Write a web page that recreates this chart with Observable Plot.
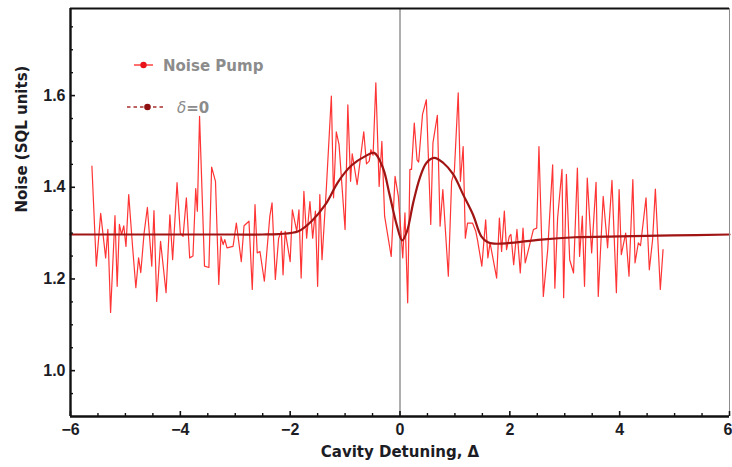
<!DOCTYPE html>
<html>
<head>
<meta charset="utf-8">
<script src="https://cdn.jsdelivr.net/npm/d3@7"></script>
<script src="https://cdn.jsdelivr.net/npm/@observablehq/plot@0.6"></script>
<style>
  html, body { margin: 0; padding: 0; background: #fff; }
  #chart svg { display: block; }
</style>
</head>
<body>
<div id="chart"></div>
<script>
// ---- data ----
const noiseX = [-5.61,-5.53,-5.45,-5.36,-5.32,-5.27,-5.19,-5.15,-5.11,-5.07,-5.03,-4.99,-4.94,-4.87,-4.81,-4.76,-4.72,-4.66,-4.60,-4.52,-4.48,-4.43,-4.36,-4.26,-4.19,-4.14,-4.06,
  -4.00,-3.95,-3.89,-3.83,-3.77,-3.72,-3.69,-3.65,-3.56,-3.48,-3.43,-3.36,-3.30,-3.26,-3.22,-3.19,-3.15,-3.04,-2.98,-2.89,-2.84,-2.75,-2.69,-2.64,-2.60,-2.55,-2.47,-2.37,-2.33,-2.27,-2.21,
  -2.16,-2.13,-2.09,-2.00,-1.96,-1.88,-1.84,-1.80,-1.75,-1.70,-1.64,-1.59,-1.54,-1.50,-1.46,-1.42,-1.34,-1.25,-1.21,-1.16,-1.11,-1.00,-0.95,-0.90,-0.87,-0.78,-0.66,-0.61,-0.56,-0.53,-0.49,-0.44,
  -0.38,-0.33,-0.28,-0.16,-0.09,-0.03,0.05,0.09,0.14,0.18,0.21,0.26,0.31,0.34,0.41,0.48,0.56,0.60,0.68,0.73,0.78,0.88,0.94,0.99,1.06,1.10,1.15,1.19,1.23,1.32,1.38,
  1.41,1.49,1.56,1.60,1.64,1.76,1.81,1.85,1.90,1.94,1.99,2.02,2.07,2.13,2.19,2.24,2.28,2.43,2.49,2.53,2.61,2.69,2.78,2.82,2.87,2.95,2.98,3.03,3.09,3.16,
  3.23,3.27,3.32,3.36,3.41,3.49,3.57,3.61,3.70,3.78,3.86,3.94,3.99,4.03,4.11,4.17,4.24,4.28,4.34,4.38,4.48,4.54,4.60,4.65,4.74,4.79];
const noiseY = [1.446,1.228,1.343,1.246,1.308,1.127,1.338,1.184,1.319,1.297,1.316,1.271,1.384,1.271,1.181,1.246,1.214,1.300,1.356,1.228,1.349,1.151,1.282,1.170,1.340,1.242,1.410,
  1.300,1.293,1.377,1.246,1.250,1.397,1.348,1.555,1.228,1.225,1.444,1.413,1.188,1.293,1.275,1.286,1.268,1.271,1.322,1.238,1.316,1.326,1.177,1.362,1.257,1.260,1.195,1.337,1.366,1.199,1.289,
  1.304,1.209,1.304,1.238,1.351,1.304,1.351,1.202,1.391,1.289,1.369,1.289,1.348,1.184,1.384,1.242,1.400,1.599,1.377,1.521,1.493,1.308,1.580,1.413,1.473,1.406,1.521,1.451,1.457,1.482,1.470,1.628,
  1.402,1.500,1.337,1.249,1.424,1.380,1.246,1.344,1.148,1.439,1.439,1.540,1.460,1.455,1.559,1.591,1.319,1.497,1.557,1.315,1.395,1.206,1.413,1.435,1.606,1.413,1.489,1.289,1.322,1.322,1.304,
  1.286,1.228,1.329,1.246,1.279,1.202,1.333,1.260,1.348,1.264,1.293,1.297,1.231,1.308,1.213,1.311,1.235,1.308,1.311,1.489,1.162,1.264,1.449,1.180,1.333,1.439,1.159,1.428,1.242,1.213,
  1.442,1.249,1.337,1.184,1.420,1.257,1.411,1.162,1.380,1.268,1.415,1.170,1.395,1.253,1.300,1.206,1.417,1.235,1.279,1.273,1.377,1.220,1.286,1.396,1.177,1.264];

const fitX = [-6,-4,-3,-2.5,-2.21,-1.85,-1.61,-1.36,-1.12,-0.88,-0.63,-0.47,-0.31,-0.19,-0.06,0.04,0.13,0.24,0.36,0.48,0.62,0.79,0.97,1.15,1.33,1.48,1.60,1.72,1.96,2.57,3.18,4.0,4.96,6];
const fitY = [1.297,1.297,1.297,1.297,1.298,1.304,1.326,1.362,1.413,1.448,1.468,1.475,1.442,1.384,1.318,1.284,1.305,1.366,1.420,1.453,1.464,1.453,1.428,1.384,1.340,1.293,1.280,1.277,1.278,1.286,1.291,1.293,1.295,1.297];

const xMajor = [-6,-4,-2,0,2,4,6];
const xMajorLabels = ["\u22126","\u22124","\u22122","0","2","4","6"];
const xMinor = [-5.5,-5,-4.5,-3.5,-3,-2.5,-1.5,-1,-0.5,0.5,1,1.5,2.5,3,3.5,4.5,5,5.5];
const yMajor = [1.0,1.2,1.4,1.6];
const yMajorLabels = ["1.0","1.2","1.4","1.6"];
const yMinor = [0.95,1.05,1.1,1.15,1.25,1.3,1.35,1.45,1.5,1.55,1.65,1.7,1.75];

const xTitle = "Cavity Detuning, \u0394";
const yTitle = "Noise (SQL units)";
const legendNames = ["Noise Pump", "\u03b4=0"];

// ---- tables ----
const noise = noiseX.map((x, i) => ({x, y: noiseY[i]}));
const fit = fitX.map((x, i) => ({x, y: fitY[i]}));

const FONT = "'Liberation Sans', Arial, sans-serif";
const WIDE = "'DejaVu Sans', Verdana, sans-serif";
const ink = "#1c1c24";
const yLo = 0.9, yHi = 1.79, xLo = -6, xHi = 6;
const lastX = xMajor[xMajor.length - 1];

const chart = Plot.plot({
  width: 732,
  height: 467,
  marginLeft: 70,
  marginRight: 3,
  marginTop: 8,
  marginBottom: 51,
  style: {fontFamily: FONT, background: "#fff"},
  x: {domain: [xLo, xHi], axis: null},
  y: {domain: [yLo, yHi], axis: null},
  marks: [
    // zero line
    Plot.ruleX([0], {stroke: "#9a9a9a", strokeWidth: 1.6}),
    // data
    Plot.line(noise, {x: "x", y: "y", stroke: "#ff2323", strokeWidth: 1.2, strokeOpacity: 0.92}),
    Plot.line(fit, {x: "x", y: "y", stroke: "#a01414", strokeWidth: 2.2, curve: "catmull-rom"}),
    // frame
    Plot.ruleX([xHi], {stroke: "#8c8c8c", strokeWidth: 1}),
    Plot.ruleY([yHi], {stroke: "#111", strokeWidth: 2}),
    Plot.ruleX([xLo], {stroke: "#111", strokeWidth: 2.4}),
    Plot.ruleY([yLo], {stroke: "#111", strokeWidth: 2.4}),
    // x ticks (inward)
    Plot.ruleX(xMajor, {x: d => d, y1: yLo, y2: yLo, insetTop: -5, stroke: "#111", strokeWidth: 1.6}),
    Plot.ruleX(xMinor, {x: d => d, y1: yLo, y2: yLo, insetTop: -3, stroke: "#111", strokeWidth: 1.4}),
    // y ticks (inward)
    Plot.ruleY(yMajor, {y: d => d, x1: xLo, x2: xLo, insetRight: -5, stroke: "#111", strokeWidth: 1.6}),
    Plot.ruleY(yMinor, {y: d => d, x1: xLo, x2: xLo, insetRight: -3, stroke: "#111", strokeWidth: 1.4}),
    // tick labels
    Plot.text(xMajor.slice(0, -1), {x: d => d, frameAnchor: "bottom", dy: 13, text: (d, i) => xMajorLabels[i],
      fontSize: 16, fontWeight: "bold", fill: ink, lineAnchor: "middle"}),
    Plot.text([lastX], {x: d => d, frameAnchor: "bottom", dy: 13, dx: 3, text: () => xMajorLabels[xMajorLabels.length - 1],
      fontSize: 16, fontWeight: "bold", fill: ink, lineAnchor: "middle", textAnchor: "end"}),
    Plot.text(yMajor, {y: d => d, frameAnchor: "left", dx: -5, text: (d, i) => yMajorLabels[i],
      fontSize: 16, fontWeight: "bold", fill: ink, textAnchor: "end"}),
    // axis titles
    Plot.text([xTitle], {frameAnchor: "bottom", dy: 40, text: d => d, fontSize: 15, fontWeight: "bold", fontFamily: WIDE, fill: ink}),
    Plot.text([yTitle], {frameAnchor: "left", dx: -48, text: d => d, rotate: -90, fontSize: 15, fontWeight: "bold", fontFamily: WIDE, fill: ink})
  ]
});

document.getElementById("chart").appendChild(chart);

// ---- legend (inside the plot area) ----
const svg = d3.select(chart);
const lg = svg.append("g")
  .attr("font-family", WIDE).attr("font-weight", "bold").attr("font-size", 15)
  .attr("fill", "#8c8c8c").attr("text-anchor", "start");
// Noise Pump
lg.append("line").attr("x1", 134).attr("x2", 153).attr("y1", 65).attr("y2", 65).attr("stroke", "#ff2323").attr("stroke-width", 1.3);
lg.append("circle").attr("cx", 143.5).attr("cy", 65).attr("r", 3.2).attr("fill", "#e8141a");
lg.append("text").attr("x", 163).attr("y", 70.5).text(legendNames[0]);
// delta = 0
lg.append("line").attr("x1", 127).attr("x2", 166).attr("y1", 107).attr("y2", 107).attr("stroke", "#a83030").attr("stroke-width", 1.4).attr("stroke-dasharray", "3.5,3");
lg.append("circle").attr("cx", 147.5).attr("cy", 107).attr("r", 3.3).attr("fill", "#8e1010");
const t2 = lg.append("text").attr("x", 177).attr("y", 112.5);
t2.append("tspan").attr("font-style", "italic").attr("font-weight", "normal").text("\u03b4");
t2.append("tspan").text("=0");
</script>
</body>
</html>
